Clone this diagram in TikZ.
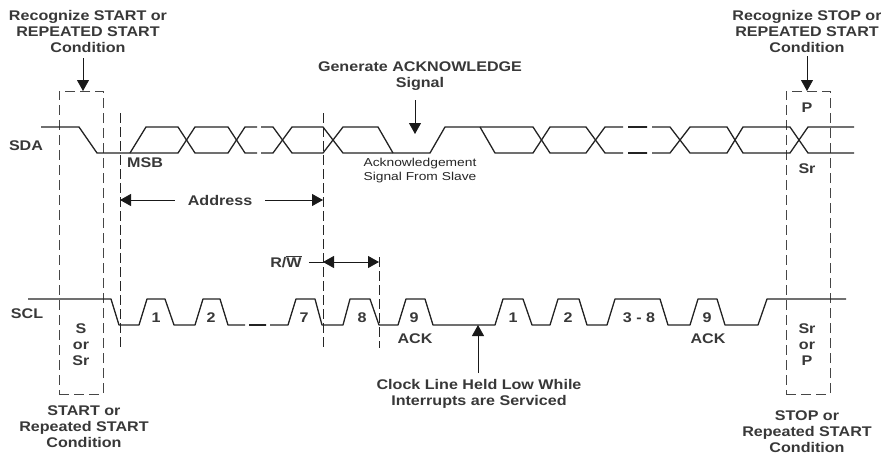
\documentclass[tikz,border=0pt]{standalone}
\usepackage{fontspec}
\setmainfont[FakeStretch=1.15]{Liberation Sans}
\newfontfamily\smallfam[FakeStretch=1.2]{Liberation Sans}
\usetikzlibrary{arrows.meta}
\definecolor{cTrace}{RGB}{35,35,35}
\definecolor{cMark}{RGB}{70,70,70}
\tikzset{
  lbl/.style={inner sep=0pt,align=center,text=black!78,
              font=\fontsize{14}{16}\selectfont\bfseries},
  lblsmall/.style={inner sep=0pt,align=left,text=black!85,
              font=\fontsize{11.5}{14}\selectfont\smallfam},
  trace/.style={line width=1.3pt,color=cTrace,line join=round},
  tracegap/.style={trace,line width=1.9pt},
  markbox/.style={draw=cMark,line width=0.9pt,dash pattern=on 10pt off 5pt,
                  minimum width=44pt,minimum height=303pt,inner sep=0pt},
  markline/.style={draw=black!85,line width=0.9pt,dash pattern=on 10pt off 4pt},
  arr/.style={-{Triangle[length=11pt,width=12pt]},line width=0.8pt,color=black!90},
  dblarr/.style={{Triangle[length=11pt,width=12pt]}-{Triangle[length=11pt,width=12pt]},
                 line width=0.8pt,color=black!90},
  plainln/.style={line width=0.8pt,color=black!90}
}
\begin{document}
\begin{tikzpicture}[x=1pt,y=-1pt]
  \useasboundingbox (0,0) rectangle (881,455);

  % Marker boxes
  \node[markbox] (startbox) at (81,242.5) {};
  \node[markbox] (stopbox) at (808,242.5) {};
  \draw[markline] (120,113) coordinate (msbtop) -- (120,348) coordinate (msbend);
  \draw[markline] (323,113) coordinate (rwtop) -- (323,348) coordinate (rwend);
  \draw[markline] (379,257) coordinate (ninetop) -- (379,348) coordinate (nineend);

  % SDA
  \draw[trace] (41,127) -- (79,127) -- (97,153) -- (178,153) -- (195,127) -- (228,127)
      -- (245,153) -- (257,153);
  \draw[trace] (130,153) -- (146,127) -- (178,127) -- (195,153) -- (228,153)
      -- (245,127) -- (257,127);
  \draw[trace] (261,153) -- (273,153) -- (292,127) -- (323,127) -- (343,153) -- (430,153)
      -- (445,127) -- (533,127) -- (550,153) -- (586,153) -- (605,127) -- (623,127);
  \draw[trace] (261,127) -- (273,127) -- (292,153) -- (323,153) -- (343,127) -- (378,127)
      -- (393,153);
  \draw[trace] (480,127) -- (495,153) -- (533,153) -- (550,127) -- (586,127) -- (605,153)
      -- (623,153);
  \foreach \ylev in {127,153} {
    \draw[tracegap] (628,\ylev) -- (647,\ylev+0.03);
  }
  \draw[trace] (652,127) -- (670,127) -- (690,153) -- (727,153) -- (743,127) -- (790,127)
      -- (808,153) -- (854,153);
  \draw[trace] (652,153) -- (670,153) -- (690,127) -- (727,127) -- (743,153) -- (790,153)
      -- (808,127) -- (854,127);

  % SCL
  \draw[trace] (28,299) -- (111,299) -- (119,325) -- (139,325) -- (147,299) -- (165,299)
      -- (174,325) -- (195,325) -- (203,299) -- (220,299) -- (228,325) -- (245,325);
  \draw[tracegap] (249,325) -- (266,325.03);
  \draw[trace] (270,325) -- (288,325) -- (296,299) -- (315,299) -- (322,325) -- (343,325)
      -- (350,299) -- (370,299) -- (379,325) -- (398,325) -- (406,299) -- (425,299)
      -- (433,325) -- (495,325) -- (503,299) -- (523,299) -- (532,325) -- (550,325)
      -- (558,299) -- (579,299) -- (587,325) -- (607,325) -- (615,299) -- (660,299)
      -- (668,325) -- (690,325) -- (698,299) -- (717,299) -- (725,325) -- (758,325)
      -- (767,299) -- (846,299);

  % Top labels
  \node[lbl] (recstart) at (88,31) {Recognize START or\\REPEATED START\\Condition};
  \node[lbl] (recstop) at (807,31) {Recognize STOP or\\REPEATED START\\Condition};
  \node[lbl] (genack) at (420,76.5) {Generate ACKNOWLEDGE\\Signal};
  \node[lbl] (sda) at (26,146) {SDA};
  \node[lbl] (msb) at (145,163) {MSB};
  \node[lblsmall] (ackslave) at (420,171) {Acknowledgement\\Signal From Slave};
  \node[lbl] (pmark) at (807,108) {P};
  \node[lbl] (srmark) at (807,169) {Sr};
  \node[lbl] (address) at (220,200) {Address};
  \node[lbl] (rw) at (286,262) {R/$\overline{\mbox{W}}$};

  % SCL labels
  \node[lbl] (scl) at (27,314) {SCL};
  \node[lbl] (sstart) at (81,345) {S\\or\\Sr};
  \node[lbl] (srstop) at (807,345) {Sr\\or\\P};
  \node[lbl] (bitone) at (156,318) {1};
  \node[lbl] (bittwo) at (211,318) {2};
  \node[lbl] (bitseven) at (304,318) {7};
  \node[lbl] (biteight) at (362,318) {8};
  \node[lbl] (bitnine) at (414,318) {9};
  \node[lbl] (ackone) at (415,339) {ACK};
  \node[lbl] (nextone) at (513,318) {1};
  \node[lbl] (nexttwo) at (568,318) {2};
  \node[lbl] (nextmid) at (639,318) {3 - 8};
  \node[lbl] (nextnine) at (707,318) {9};
  \node[lbl] (acktwo) at (708,339) {ACK};

  % Bottom labels
  \node[lbl] (heldlow) at (479,394) {Clock Line Held Low While\\Interrupts are Serviced};
  \node[lbl] (startcond) at (84,427) {START or\\Repeated START\\Condition};
  \node[lbl] (stopcond) at (807,432) {STOP or\\Repeated START\\Condition};

  % Arrows
  \coordinate (startin) at (83,91);
  \coordinate (stopin) at (807,91);
  \coordinate (ackin) at (415,134);
  \coordinate (heldin) at (478,325);
  \coordinate (addrleft) at (120,200);
  \coordinate (addrright) at (323,200);
  \coordinate (rwleft) at (323,262);
  \coordinate (rwright) at (379,262);
  \draw[arr] (83,58) coordinate (startfrom) -- (startin);
  \draw[arr] (807,56) coordinate (stopfrom) -- (stopin);
  \draw[arr] (415,100) coordinate (ackfrom) -- (ackin);
  \draw[arr] (478,373) coordinate (heldfrom) -- (heldin);
  \draw[arr,shorten <=13pt] (address.west) -- (addrleft);
  \draw[arr,shorten <=13pt] (address.east) -- (addrright);
  \draw[plainln,shorten <=7pt] (rw.east) -- (rwleft);
  \draw[dblarr] (rwleft) -- (rwright);

\end{tikzpicture}
\end{document}
